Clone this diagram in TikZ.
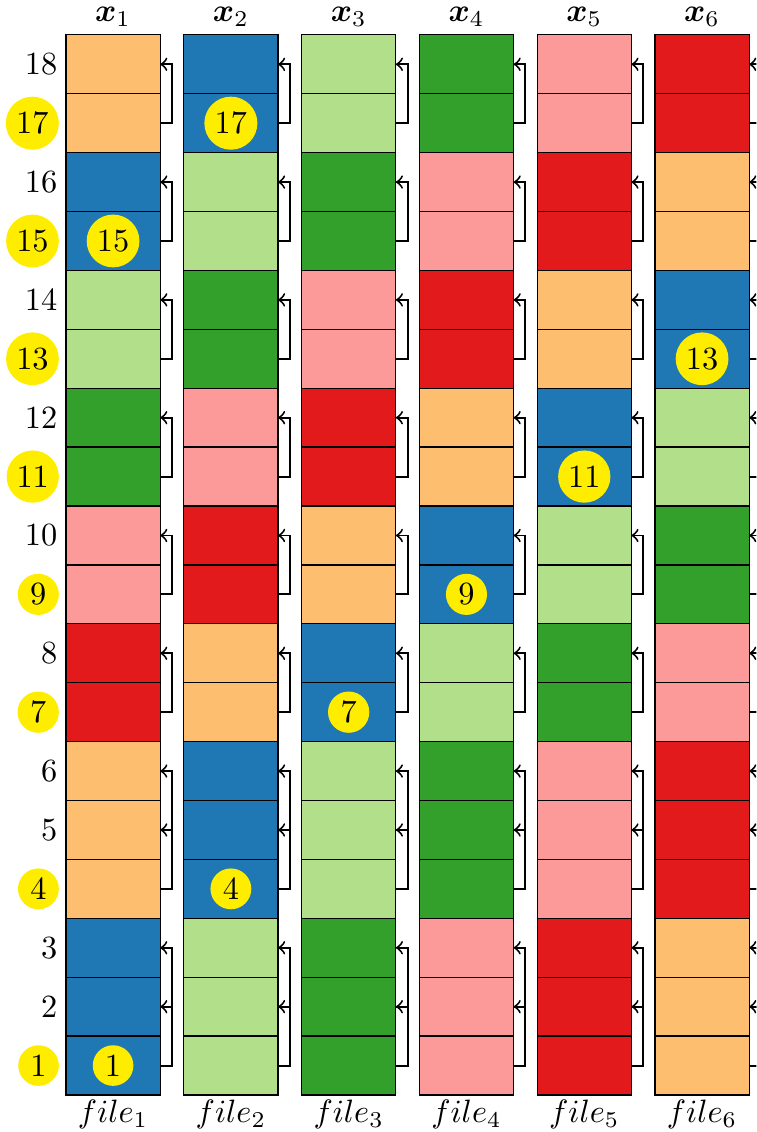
\documentclass[tikz,border=0pt]{standalone}
\usepackage{amsmath,amssymb}
\usepackage{bm}
\usetikzlibrary{positioning}
\definecolor{grp0}{HTML}{FDBF6F}
\definecolor{grp1}{HTML}{1F78B4}
\definecolor{grp2}{HTML}{B2DF8A}
\definecolor{grp3}{HTML}{33A02C}
\definecolor{grp4}{HTML}{FB9A99}
\definecolor{grp5}{HTML}{E31A1C}
\definecolor{hiyellow}{HTML}{FFED00}

\begin{document}
\begin{tikzpicture}[x=0.64cm, y=0.64cm,
    cell/.style={rectangle, draw, minimum width=1.024cm, minimum height=0.64cm, inner sep=0pt, outer sep=0pt},
    pick/.style={circle, fill=hiyellow, inner sep=1.5pt},
    rownum/.style={inner sep=0.5pt},
    caption/.style={inner sep=1pt},
    link/.style={->, semithick}]

    % Frame
    \useasboundingbox (0,0) rectangle (12.84,19.22);
    \clip (0,0) rectangle (12.84,19.22);

    % Files: groups given as start row / length
    \foreach \c in {1,...,6} {
      \foreach \s/\n [count=\g] in {1/3,4/3,7/2,9/2,11/2,13/2,15/2,17/2} {
        \pgfmathtruncatemacro{\k}{mod(\c+13-\g,6)}
        \pgfmathtruncatemacro{\e}{\s+\n-1}
        \pgfmathtruncatemacro{\l}{\e-1}
        \foreach \r in {\s,...,\e}
          \node[cell, fill=grp\k] (c\c-\r) at (2*\c-0.08, \r+0.128) {};
        \foreach \r [evaluate=\r as \nx using int(\r+1)] in {\s,...,\l}
          \draw[link] (c\c-\r.east) -- ++(0.2,0) |- (c\c-\nx.east);
        \ifnum\k=1 \node[pick] (p\c-\s) at (c\c-\s) {\s}; \fi
      }
      % Labels
      \node[caption, above=1.3pt of c\c-18] (x\c) {$\bm{x}_\c$};
      \node[caption, below=0.5pt of c\c-1] (f\c) {$file_\c$};
    }

    % Row numbers
    \foreach \r in {2,3,5,6,8,10,12,14,16,18}
      \node[rownum, left=2pt of c1-\r] (n\r) {\r};
    \foreach \r in {1,4,7,9,11,13,15,17}
      \node[pick, left=2pt of c1-\r] (n\r) {\r};
\end{tikzpicture}
\end{document}
